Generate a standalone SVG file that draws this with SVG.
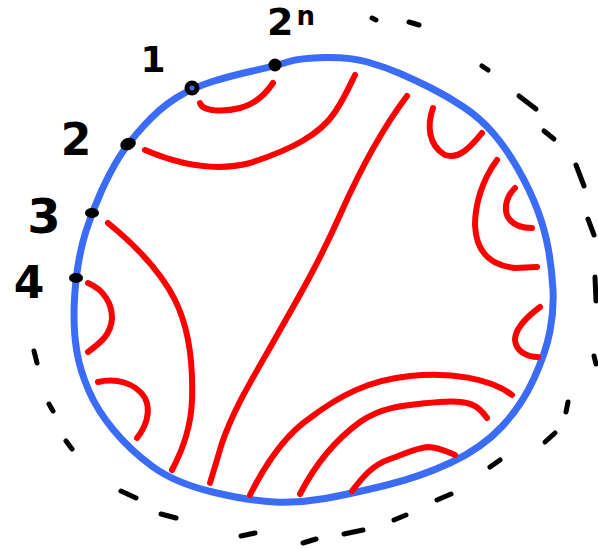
<svg xmlns="http://www.w3.org/2000/svg" width="598" height="550" viewBox="0 0 598 550">
<style>
.blue{fill:none;stroke:#3b6cf6;stroke-width:7;stroke-linejoin:round}
.red{fill:none;stroke:#ff0000;stroke-width:6;stroke-linecap:round;stroke-linejoin:round}
.dash{fill:none;stroke:#000;stroke-width:5;stroke-linecap:round}
.lbl{font-family:"DejaVu Sans","Liberation Sans",sans-serif;font-weight:bold;fill:#000;text-anchor:middle}
.dot{fill:#000}
</style>
<rect width="598" height="550" fill="#fff"/>
<g id="outline">
<path class="blue" d="M325,57.5 Q350,57 367.5,62 Q385,67 400,73.5 Q415,80 431,88 Q447,96 463.5,107 Q480,118 493,133 Q506,148 518,169 Q530,190 537.5,210 Q545,230 548.5,250 Q552,270 553,290 Q554,310 550,331 Q546,352 534,378.5 Q522,405 502,426.5 Q482,448 451,462.5 Q420,477 385,485.5 Q350,494 325,498.5 Q300,503 275,502 Q250,501 212.5,492 Q175,483 152.5,466.5 Q130,450 113.5,430 Q97,410 88.5,390 Q80,370 77,352.5 Q74,335 74,315 Q74,295 77,272.5 Q80,250 86,231 Q92,212 101,192 Q110,172 119,157.5 Q128,143 144,125.5 Q160,108 176,98 Q192,88 211,82 Q230,76 252.5,71 Q275,66 287.5,62 Q300,58 325,57.5 Z"/>
</g>
<g id="dashes">
<path class="dash" d="M372,18 L376,20"/>
<path class="dash" d="M409,22 L419,25" stroke-width="4"/>
<path class="dash" d="M482,66 L488,70" stroke-width="3.5"/>
<path class="dash" d="M519,96 L536,109" stroke-width="5.5"/>
<path class="dash" d="M544,131 L554,139"/>
<path class="dash" d="M576,165 L584,186" stroke-width="5.5"/>
<path class="dash" d="M588,219 L594,235"/>
<path class="dash" d="M595,277 L596,301" stroke-width="8"/>
<path class="dash" d="M594,356 L596,364"/>
<path class="dash" d="M568,402 L566,412"/>
<path class="dash" d="M555,433 L545,442" stroke-width="5.5"/>
<path class="dash" d="M500,460 L490,467" stroke-width="4"/>
<path class="dash" d="M451,494 L437,500"/>
<path class="dash" d="M406,515 L394,520"/>
<path class="dash" d="M363,530 L344,534" stroke-width="5.5"/>
<path class="dash" d="M316,539 L303,543"/>
<path class="dash" d="M255,533 L241,536"/>
<path class="dash" d="M176,518 L161,514"/>
<path class="dash" d="M136,498 L121,491"/>
<path class="dash" d="M72,449 L66,441"/>
<path class="dash" d="M53,411 L49,404"/>
<path class="dash" d="M37,363 L34,351" stroke-width="5.5"/>
</g>
<g id="chords">
<path class="red" d="M200,103 C203,112 225,112 240,108 C255,104 265,95 273,83"/>
<path class="red" d="M145,150 C180,165 215,172 250,163 C290,150 320,135 335,112 C345,97 350,85 355,75"/>
<path class="red" d="M407,96 C385,125 360,170 340,215 C320,260 300,295 280,330 C255,375 235,405 222,443 L210,483" stroke-width="5"/>
<path class="red" d="M250,495 C265,465 285,435 310,418 C340,395 370,380 410,376 C450,372 490,378 512,395" stroke-width="5.5"/>
<path class="red" d="M300,494 C315,465 335,440 360,422 C380,408 400,405 440,402 C470,400 478,405 487,418"/>
<path class="red" d="M352,491 C362,478 372,465 390,459 C405,454 415,448 428,447 C438,447 448,452 455,455"/>
<path class="red" d="M540,307 C528,316 515,328 515,340 C516,352 528,357 538,357"/>
<path class="red" d="M108,223 C135,245 160,270 175,300 C190,330 193,370 192,400 C191,430 180,455 172,470"/>
<path class="red" d="M88,283 C105,290 112,305 112,318 C111,335 100,343 88,352"/>
<path class="red" d="M98,382 C115,378 135,382 145,398 C152,412 145,428 137,438"/>
<path class="red" d="M433,108 C427,125 428,145 445,155 C460,160 472,145 482,133"/>
<path class="red" d="M497,160 C482,180 475,205 475,225 C476,250 488,265 515,268 L537,267"/>
<path class="red" d="M515,188 C505,198 503,212 510,220 C515,226 525,228 532,228"/>
</g>
<g id="point-1">
<circle cx="192" cy="88" r="5" fill="#3b6cf6" stroke="#000" stroke-width="5"/>
<text class="lbl" x="153" y="72" font-size="36">1</text>
</g>
<g id="point-2">
<ellipse class="dot" cx="128" cy="144" rx="8" ry="6" transform="rotate(-20 128 144)"/>
<text class="lbl" x="76" y="155" font-size="44">2</text>
</g>
<g id="point-3">
<ellipse class="dot" cx="92" cy="213" rx="7" ry="5"/>
<text class="lbl" x="44" y="233" font-size="48">3</text>
</g>
<g id="point-4">
<ellipse class="dot" cx="76" cy="278" rx="7" ry="5"/>
<text class="lbl" x="29" y="298" font-size="44">4</text>
</g>
<g id="point-2n">
<circle class="dot" cx="275" cy="65" r="6.5"/>
<text class="lbl" x="278" y="35" font-size="38" text-anchor="start" style="text-anchor:start" dx="-11">2<tspan font-size="26" dx="3" dy="-10">n</tspan></text>
</g>
</svg>
